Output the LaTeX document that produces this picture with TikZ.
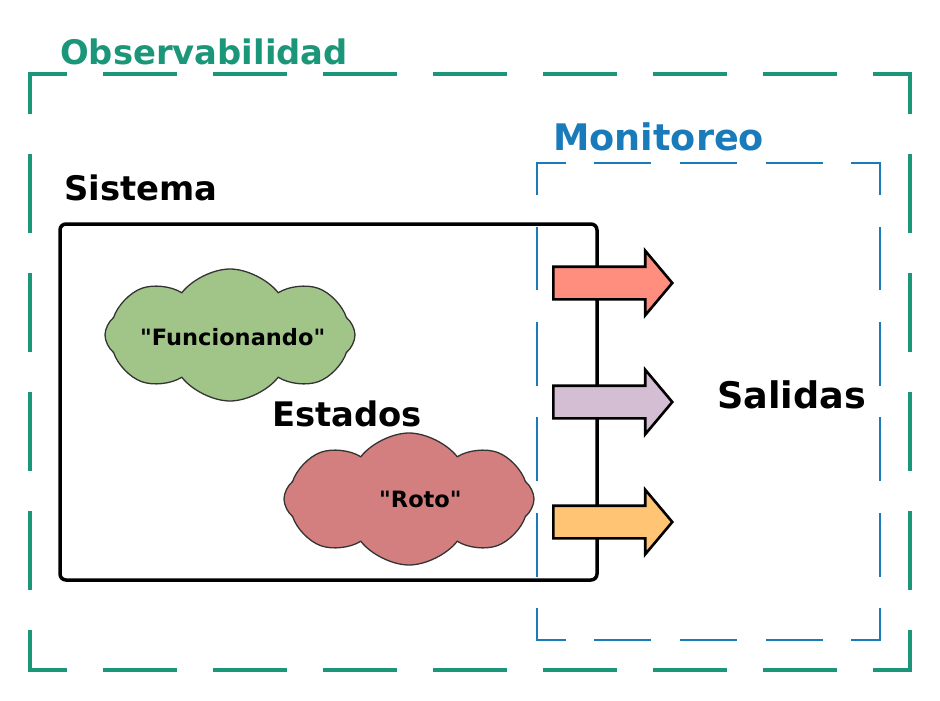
\documentclass[tikz,border=0pt]{standalone}
\usepackage{fontspec}
\setmainfont{DejaVu Sans}[Ligatures=TeXOff]
\usetikzlibrary{shapes.symbols,shapes.arrows}
\definecolor{obsgreen}{HTML}{1B9679}
\definecolor{monblue}{HTML}{1A7BBB}
\definecolor{cloudgreen}{HTML}{A1C589}
\definecolor{cloudred}{HTML}{D47F7F}
\definecolor{arrowred}{HTML}{FF8E7E}
\definecolor{arrowpurple}{HTML}{D4BED4}
\definecolor{arroworange}{HTML}{FFC574}
\newcommand\bigtitle{\fontsize{33.8}{40}\selectfont\bfseries}
\newcommand\widetitle{\fontsize{36.6}{43}\selectfont\bfseries}
\newcommand\smalltitle{\fontsize{22.5}{27}\selectfont\bfseries}
\tikzset{
  title/.style={anchor=base west, inner sep=0pt, font=\bigtitle},
  statetext/.style={anchor=base west, inner sep=0pt, font=\smalltitle},
  obsh/.style={draw=obsgreen, line width=3.2pt, line cap=rect, dash pattern=on 70pt off 40pt, dash phase=35pt},
  obsv/.style={draw=obsgreen, line width=3.2pt, line cap=rect, dash pattern=on 76pt off 43.2pt, dash phase=38pt},
  monh/.style={draw=monblue, line width=2.4pt, line cap=rect, dash pattern=on 55pt off 30.75pt, dash phase=27.5pt},
  monv/.style={draw=monblue, line width=2.4pt, line cap=rect, dash pattern=on 61.4pt off 34pt, dash phase=30.7pt},
  sysbox/.style={draw, line width=3.5pt, rounded corners=6pt, inner sep=0pt},
  estado/.style={cloud, cloud puffs=8, cloud puff arc=105, cloud ignores aspect, draw=black!80, line width=1.3pt, inner sep=0pt, minimum width=250pt, minimum height=132pt},
  salida/.style={single arrow, draw, line width=2.6pt, inner xsep=0pt, inner ysep=15pt, anchor=tail, minimum height=119pt, single arrow head extend=16pt, single arrow tip angle=100}
}
\begin{document}
\begin{tikzpicture}[x=1pt,y=-1pt]
\useasboundingbox (0,0) rectangle (940,701);
% observabilidad frame
\coordinate (otl) at (30,74);
\coordinate (otr) at (910,74);
\coordinate (obl) at (30,670);
\coordinate (obr) at (910,670);
\foreach \a/\b in {otl/otr, obl/obr}
{
    \draw[obsh] (\a)--(\b);
}
\foreach \a/\b in {otl/obl, otr/obr}
{
    \draw[obsv] (\a)--(\b);
}
% sistema
\node (sistema) at (328.5,402)[sysbox, minimum width=537pt, minimum height=356pt]{};
\node (funcionando) at (230,335)[estado, fill=cloudgreen]{};
\node (roto) at (409,499)[estado, fill=cloudred]{};
% monitoreo frame
\coordinate (mtl) at (537,163);
\coordinate (mtr) at (880,163);
\coordinate (mbl) at (537,640);
\coordinate (mbr) at (880,640);
\foreach \a/\b in {mtl/mtr, mbl/mbr}
{
    \draw[monh] (\a)--(\b);
}
\foreach \a/\b in {mtl/mbl, mtr/mbr}
{
    \draw[monv] (\a)--(\b);
}
% salidas
\foreach \y/\c/\n in {283/arrowred/s1, 402/arrowpurple/s2, 522/arroworange/s3}
{
    \node (\n) at (552,\y)[salida, fill=\c]{};
}
% texts
\node (obs) at (60,65)[title, text=obsgreen]{Observabilidad};
\node (mon) at (553,150)[title, font=\widetitle, text=monblue]{Monitoreo};
\node (sis) at (64,200)[title]{Sistema};
\node (est) at (272,426)[title]{Estados};
\node (sal) at (717,408)[title, font=\widetitle]{Salidas};
\node (ftext) at (140,345)[statetext]{"Funcionando"};
\node (rtext) at (379,507)[statetext]{"Roto"};
\end{tikzpicture}
\end{document}
